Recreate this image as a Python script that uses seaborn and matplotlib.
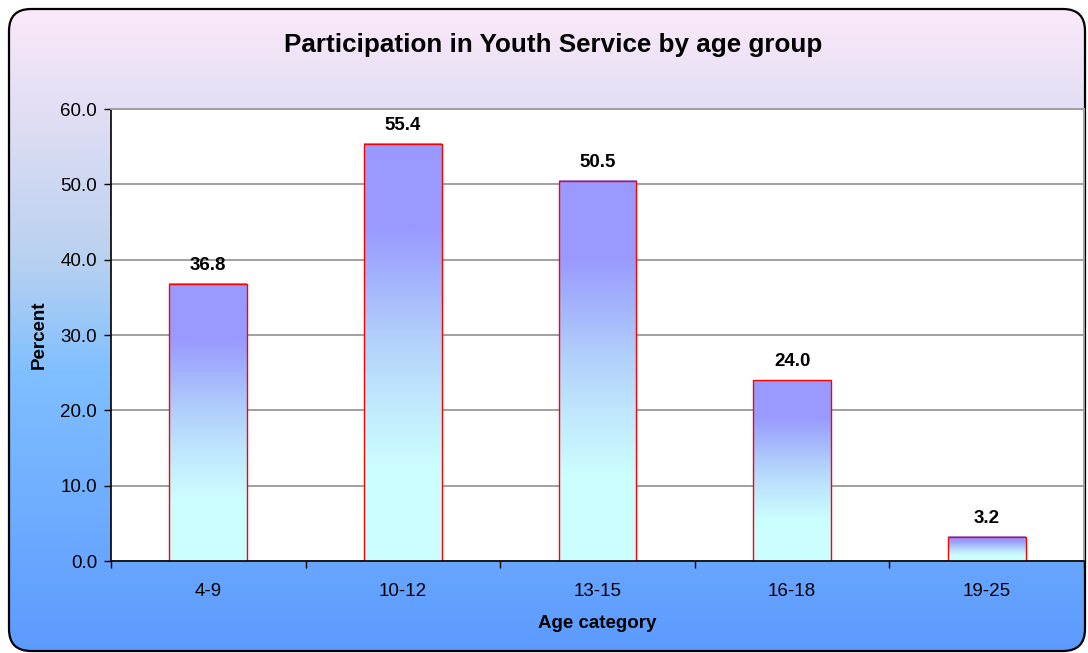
import numpy as np
import pandas as pd
import seaborn as sns
import matplotlib.pyplot as plt
from matplotlib.colors import LinearSegmentedColormap
from matplotlib.patches import FancyBboxPatch

sns.set_style('white')
plt.rcParams['font.family'] = ['Liberation Sans', 'DejaVu Sans']
plt.rcParams['text.color'] = 'black'
plt.rcParams['axes.labelcolor'] = 'black'
plt.rcParams['xtick.color'] = 'black'
plt.rcParams['ytick.color'] = 'black'

age_groups = ['4-9', '10-12', '13-15', '16-18', '19-25']
percent = [36.8, 55.4, 50.5, 24.0, 3.2]

df = pd.DataFrame({'age': age_groups, 'percent': percent})

W, H = 1088, 653
fig = plt.figure(figsize=(W / 100, H / 100), dpi=100, facecolor='white')

# background with rounded frame
bg = fig.add_axes([0, 0, 1, 1], zorder=-5)
bg.set_xlim(0, W)
bg.set_ylim(0, H)
bg.axis('off')
bg_cmap = LinearSegmentedColormap.from_list('bg', [
	(0.0, '#fdeaf9'), (0.17, '#e2def4'), (0.4, '#b8d1f0'),
	(0.57, '#80bfff'), (1.0, '#5c9aff')])
grad = np.linspace(0, 1, 256).reshape(-1, 1)
img = bg.imshow(grad, cmap=bg_cmap, aspect='auto', extent=(0, W, 0, H), origin='upper')
frame = FancyBboxPatch((9, 2), W - 12, H - 11, boxstyle='round,pad=0,rounding_size=22',
	facecolor='none', edgecolor='black', linewidth=1.6)
bg.add_patch(frame)
img.set_clip_path(frame)

ax = fig.add_axes([111 / W, 1 - 561 / H, (1084 - 111) / W, (561 - 109) / H])
ax.set_facecolor('white')
sns.barplot(data=df, x='age', y='percent', width=0.4, facecolor='none',
	edgecolor='red', linewidth=1.0, ax=ax, zorder=3)

bar_cmap = LinearSegmentedColormap.from_list('bar', [
	(0.0, '#ccffff'), (0.22, '#ccfeff'), (0.4, '#bfe6fd'), (0.55, '#b0cdfb'),
	(0.7, '#a1aefd'), (0.8, '#9999ff'), (1.0, '#9999ff')])
bar_grad = np.linspace(0, 1, 256).reshape(-1, 1)
for p in ax.patches:
	x0, y0 = p.get_x(), p.get_y()
	w, h = p.get_width(), p.get_height()
	ax.imshow(bar_grad, cmap=bar_cmap, aspect='auto', origin='lower',
		extent=(x0, x0 + w, y0, y0 + h), zorder=2.5)
	ax.text(x0 + w / 2, y0 + h + 1.3, f'{h:.1f}', ha='center', va='bottom',
		fontsize=13.5, fontweight='bold', color='black')

ax.set_xlim(-0.5, 4.5)
ax.set_ylim(0, 60)
ax.set_yticks(np.arange(0, 61, 10))
ax.set_yticklabels([f'{v:.1f}' for v in np.arange(0, 61, 10)], fontsize=13.5)
ax.set_xticks(range(5))
ax.set_xticklabels(age_groups, fontsize=13.5)
ax.set_xticks(np.arange(-0.5, 5, 1), minor=True)
ax.tick_params(axis='x', which='major', length=0, pad=16)
ax.tick_params(axis='x', which='minor', length=5, width=1, color='black', direction='out', bottom=True)
ax.tick_params(axis='y', length=5, width=1, color='black', direction='out', left=True, pad=5)

ax.yaxis.grid(True, color='#a0a0a0', linewidth=1.4)
ax.set_axisbelow(True)
for s in ['left', 'bottom']:
	ax.spines[s].set_color('black')
	ax.spines[s].set_linewidth(1.2)
for s in ['top', 'right']:
	ax.spines[s].set_color('#a0a0a0')
	ax.spines[s].set_linewidth(1.4)
ax.spines['bottom'].set_zorder(4)

ax.set_xlabel('Age category', fontsize=13.5, fontweight='bold', labelpad=11)
ax.set_ylabel('Percent', fontsize=13.5, fontweight='bold', labelpad=9)
fig.text(553 / W, 1 - 45 / H, 'Participation in Youth Service by age group',
	ha='center', va='center', fontsize=18.7, fontweight='bold')

plt.savefig('out.png', dpi=100)
